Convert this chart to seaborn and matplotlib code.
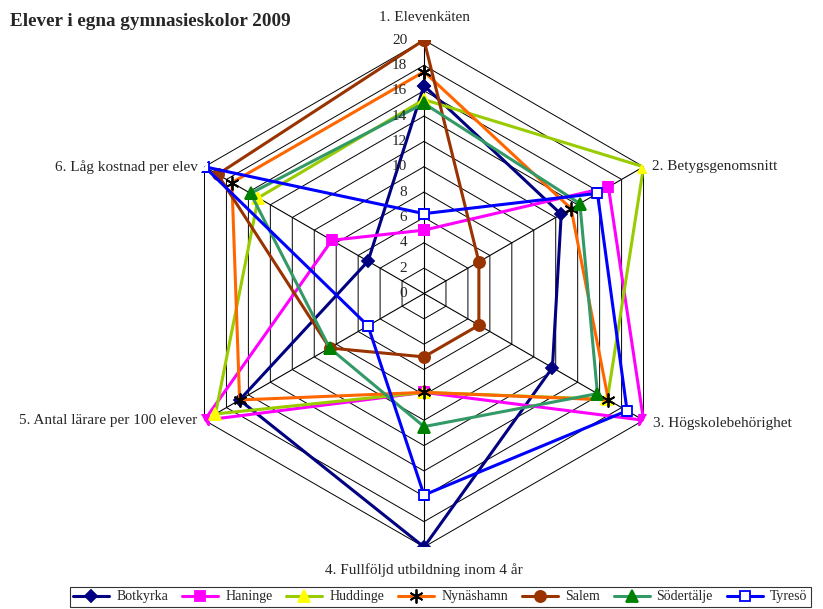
import numpy as np
import matplotlib
matplotlib.use('Agg')
import matplotlib.pyplot as plt
import seaborn as sns

categories = ['1. Elevenkäten', '2. Betygsgenomsnitt', '3. Högskolebehörighet',
              '4. Fullföljd utbildning inom 4 år', '5. Antal lärare per 100 elever',
              '6. Låg kostnad per elev']
schools = ['Botkyrka', 'Haninge', 'Huddinge', 'Nynäshamn', 'Salem', 'Södertälje', 'Tyresö']
botkyrka = [16.4, 12.5, 11.7, 20.0, 16.8, 5.1]
haninge = [5.0, 16.8, 20.0, 7.8, 20.0, 8.4]
huddinge = [15.3, 20.0, 16.7, 7.8, 19.0, 15.1]
nynashamn = [17.5, 13.4, 16.8, 7.8, 16.8, 17.5]
salem = [20.0, 5.0, 5.0, 5.0, 8.6, 18.8]
sodertalje = [15.0, 14.2, 15.8, 10.5, 8.6, 15.8]
tyreso = [6.3, 15.8, 18.5, 15.9, 5.1, 20.0]
values = [botkyrka, haninge, huddinge, nynashamn, salem, sodertalje, tyreso]
ticks = list(range(0, 21, 2))

# line colour, marker, marker face, marker edge, marker size
styles = [
    ('#000080', 'D', '#000080', '#000080', 6.5),
    ('#FF00FF', 's', '#FF00FF', '#FF00FF', 7.5),
    ('#99CC00', '^', '#FFFF00', '#FFFF00', 8),
    ('#FF6600', (6, 2, 0), 'black', 'black', 10),
    ('#993300', 'o', '#993300', '#993300', 8),
    ('#339966', '^', '#008000', '#008000', 8),
    ('#0000FF', 's', 'white', '#0000FF', 7.5),
]

sns.set_style('white')
plt.rcParams['font.family'] = ['Liberation Serif', 'DejaVu Serif']

fig = plt.figure(figsize=(8.23, 6.09), dpi=100)
ax = fig.add_axes([0.2072, 0.1018, 0.616, 0.8325], projection='polar')
ax.set_theta_zero_location('N')
ax.set_theta_direction(-1)

theta = np.linspace(0, 2 * np.pi, len(categories), endpoint=False)
theta_closed = np.append(theta, 2 * np.pi)

# hexagonal grid
for r in ticks[1:]:
    ax.plot(theta_closed, [r] * len(theta_closed), color='black', lw=0.7, zorder=1)

handles = []
for name, vals, (col, mk, mfc, mec, ms) in zip(schools, values, styles):
    sns.lineplot(x=theta_closed, y=vals + vals[:1], ax=ax, sort=False, estimator=None,
                 color=col, lw=2.2, marker=mk, markerfacecolor=mfc, markeredgecolor=mec,
                 markeredgewidth=1.3, markersize=ms, zorder=3)
    ln = ax.lines[-1]
    ln.set_label(name)
    handles.append(ln)

if ax.get_legend() is not None:
    ax.get_legend().remove()

ax.set_ylim(0, 20)
ax.set_yticks(ticks)
ax.set_yticklabels([])
ax.yaxis.grid(False)
ax.set_xticks(theta)
ax.set_xticklabels([])
ax.xaxis.grid(True, color='black', lw=0.8)
ax.spines['polar'].set_visible(False)
ax.set_xlabel('')
ax.set_ylabel('')

for r in ticks:
    ax.annotate(str(r), xy=(0, r), xytext=(-12, 0), textcoords='offset points',
                ha='right', va='center', fontsize=11)

label_pos = [((0, 16), 'center'), ((6, 0), 'left'), ((7, -2), 'left'),
             ((0, -17), 'center'), ((-5, 0), 'right'), ((-5, 0), 'right')]
for t, cat, (off, ha) in zip(theta, categories, label_pos):
    ax.annotate(cat, xy=(t, 20), xytext=off, textcoords='offset points',
                ha=ha, va='center', fontsize=11, annotation_clip=False)

fig.text(0.012, 0.965, 'Elever i egna gymnasieskolor 2009', fontweight='bold',
         fontsize=13.8, va='center', ha='left')

leg = fig.legend(handles, schools, loc='lower center', ncol=7, bbox_to_anchor=(0.535, -0.008),
                 frameon=True, fancybox=False, edgecolor='black', fontsize=10,
                 handlelength=2.6, columnspacing=1.0, borderpad=0.25, handletextpad=0.5)
leg.get_frame().set_linewidth(0.8)

fig.savefig('out.png', dpi=100)
